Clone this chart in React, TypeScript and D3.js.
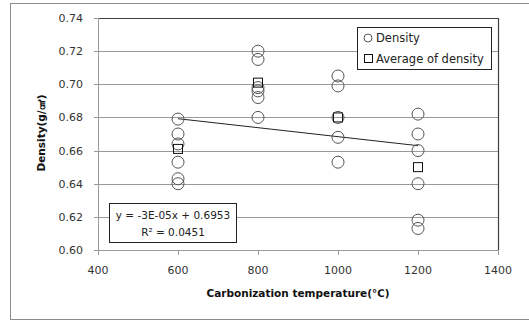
import React from "react";
import * as d3 from "d3";

// density readings per carbonization temperature
const temps = [600, 800, 1000, 1200];
const density600 = [0.679, 0.670, 0.664, 0.653, 0.643, 0.640];
const density800 = [0.720, 0.715, 0.698, 0.696, 0.692, 0.680];
const density1000 = [0.705, 0.699, 0.680, 0.668, 0.653];
const density1200 = [0.682, 0.670, 0.660, 0.640, 0.618, 0.613];
const averageDensity = [0.661, 0.701, 0.680, 0.650];

const xTicks = [400, 600, 800, 1000, 1200, 1400];
const yTicks = [0.6, 0.62, 0.64, 0.66, 0.68, 0.7, 0.72, 0.74];
const equationLabel = "y = -3E-05x + 0.6953";
const r2Label = "R² = 0.0451";

const App = () => {
  const svg = React.useRef<SVGSVGElement>(null);

  React.useEffect(() => {
    d3.select(svg.current).selectAll("*").remove();
    drawChart(svg);
  }, [svg]);

  return (
    <svg
      ref={svg}
      width={529}
      height={321}
      style={{ position: "absolute", left: 0, top: 0 }}
    />
  );
};

function drawChart(svgRef: React.RefObject<SVGSVGElement | null>) {
  const w = 529;
  const h = 321;
  const left = 98;
  const right = 498;
  const top = 18;
  const bottom = 250;
  const font = "DejaVu Sans, Verdana, sans-serif";

  const groups = [density600, density800, density1000, density1200];
  const points = groups.flatMap((g, i) => g.map((v) => ({ x: temps[i], y: v })));

  const xScale = d3.scaleLinear().domain([400, 1400]).range([left, right]);
  const yScale = d3.scaleLinear().domain([0.6, 0.74]).range([bottom, top]);

  const svg = d3.select(svgRef.current).attr("width", w).attr("height", h);

  // chart area border
  svg
    .append("rect")
    .attr("x", 10.5)
    .attr("y", 3.5)
    .attr("width", 540)
    .attr("height", 316)
    .attr("fill", "white")
    .attr("stroke", "#8c8c8c");

  // gridlines
  svg
    .append("g")
    .selectAll("line")
    .data(yTicks)
    .join("line")
    .attr("x1", left - 4)
    .attr("x2", right)
    .attr("y1", (d) => Math.round(yScale(d)) + 0.5)
    .attr("y2", (d) => Math.round(yScale(d)) + 0.5)
    .attr("stroke", "#9a9a9a");

  // plot border top / right
  svg
    .append("path")
    .attr("d", `M${left},${top + 0.5}H${right + 0.5}V${bottom}`)
    .attr("fill", "none")
    .attr("stroke", "#404040")
    .attr("stroke-width", 1.2);

  // axes lines
  svg
    .append("line")
    .attr("x1", left + 0.5)
    .attr("x2", left + 0.5)
    .attr("y1", top)
    .attr("y2", bottom + 0.5)
    .attr("stroke", "#9a9a9a");
  svg
    .append("line")
    .attr("x1", left)
    .attr("x2", right)
    .attr("y1", bottom + 0.5)
    .attr("y2", bottom + 0.5)
    .attr("stroke", "#9a9a9a");
  svg
    .append("g")
    .selectAll("line")
    .data(xTicks)
    .join("line")
    .attr("x1", (d) => Math.round(xScale(d)) + 0.5)
    .attr("x2", (d) => Math.round(xScale(d)) + 0.5)
    .attr("y1", bottom)
    .attr("y2", bottom + 5)
    .attr("stroke", "#9a9a9a");

  // tick labels
  svg
    .append("g")
    .selectAll("text")
    .data(yTicks)
    .join("text")
    .attr("x", 83)
    .attr("y", (d) => yScale(d) + 4)
    .attr("text-anchor", "end")
    .attr("font-family", font)
    .attr("font-size", 11)
    .attr("fill", "#333")
    .text((d) => d3.format(".2f")(d));
  svg
    .append("g")
    .selectAll("text")
    .data(xTicks)
    .join("text")
    .attr("x", (d) => xScale(d))
    .attr("y", 274)
    .attr("text-anchor", "middle")
    .attr("font-family", font)
    .attr("font-size", 11)
    .attr("fill", "#333")
    .text((d) => d);

  // axis titles
  svg
    .append("text")
    .attr("x", 298)
    .attr("y", 297)
    .attr("text-anchor", "middle")
    .attr("font-family", font)
    .attr("font-weight", "bold")
    .attr("font-size", 10.5)
    .attr("fill", "#111")
    .text("Carbonization temperature(℃)");
  svg
    .append("text")
    .attr("transform", "translate(45,133) rotate(-90)")
    .attr("text-anchor", "middle")
    .attr("font-family", font)
    .attr("font-weight", "bold")
    .attr("font-size", 10.5)
    .attr("fill", "#111")
    .text("Density(g/㎤)");

  // linear trendline from the density readings
  const mx = d3.mean(points, (d) => d.x) as number;
  const my = d3.mean(points, (d) => d.y) as number;
  const slope =
    d3.sum(points, (d) => (d.x - mx) * (d.y - my)) /
    d3.sum(points, (d) => (d.x - mx) ** 2);
  const intercept = my - slope * mx;
  const xExtent = d3.extent(points, (d) => d.x) as [number, number];
  const line = d3
    .line<number>()
    .x((d) => xScale(d))
    .y((d) => yScale(slope * d + intercept));
  svg
    .append("path")
    .datum(xExtent)
    .attr("fill", "none")
    .attr("stroke", "#222")
    .attr("stroke-width", 1)
    .attr("d", line);

  // density circles
  svg
    .append("g")
    .selectAll("circle")
    .data(points)
    .join("circle")
    .attr("cx", (d) => xScale(d.x))
    .attr("cy", (d) => yScale(d.y))
    .attr("r", 6)
    .attr("fill", "none")
    .attr("stroke", "#555")
    .attr("stroke-width", 1);

  // average squares
  svg
    .append("g")
    .selectAll("rect")
    .data(averageDensity)
    .join("rect")
    .attr("x", (d, i) => xScale(temps[i]) - 4.5)
    .attr("y", (d) => yScale(d) - 4.5)
    .attr("width", 9)
    .attr("height", 9)
    .attr("fill", "none")
    .attr("stroke", "#111")
    .attr("stroke-width", 1);

  // legend
  const legend = svg.append("g");
  legend
    .append("rect")
    .attr("x", 357.5)
    .attr("y", 27.5)
    .attr("width", 134)
    .attr("height", 42)
    .attr("fill", "white")
    .attr("stroke", "#222");
  legend
    .append("circle")
    .attr("cx", 368)
    .attr("cy", 38)
    .attr("r", 4)
    .attr("fill", "none")
    .attr("stroke", "#555");
  legend
    .append("rect")
    .attr("x", 364.5)
    .attr("y", 54.5)
    .attr("width", 8)
    .attr("height", 8)
    .attr("fill", "none")
    .attr("stroke", "#111");
  legend
    .selectAll("text")
    .data(["Density", "Average of density"])
    .join("text")
    .attr("x", 376)
    .attr("y", (d, i) => 42 + i * 21)
    .attr("font-family", font)
    .attr("font-size", 11.5)
    .attr("fill", "#222")
    .text((d) => d);

  // equation box
  svg
    .append("rect")
    .attr("x", 109.5)
    .attr("y", 203.5)
    .attr("width", 127)
    .attr("height", 39)
    .attr("fill", "white")
    .attr("stroke", "#222");
  svg
    .append("g")
    .selectAll("text")
    .data([equationLabel, r2Label])
    .join("text")
    .attr("x", 173)
    .attr("y", (d, i) => 219 + i * 17)
    .attr("text-anchor", "middle")
    .attr("font-family", font)
    .attr("font-size", 10.5)
    .attr("fill", "#222")
    .text((d) => d);
}

export default App;
